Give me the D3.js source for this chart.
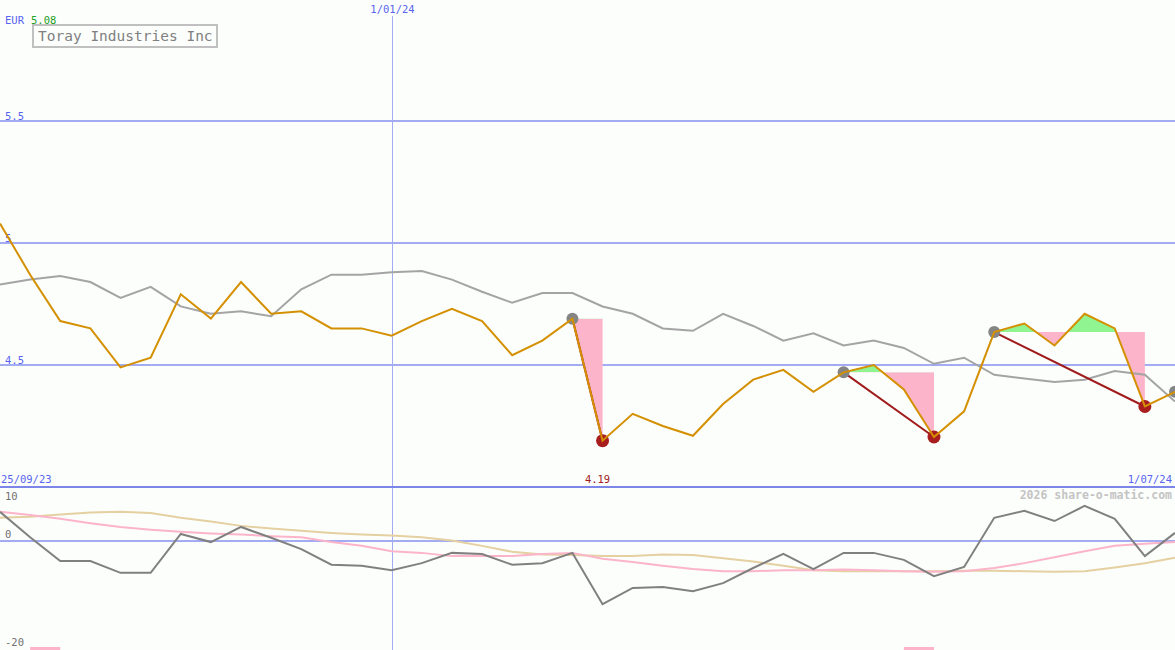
<!DOCTYPE html>
<html><head><meta charset="utf-8">
<script src="https://cdn.jsdelivr.net/npm/d3@7"></script>
<style>
html,body{margin:0;padding:0;background:#fcfefc;}
svg{display:block;}
text{font-family:"DejaVu Sans Mono",monospace;}
</style></head>
<body><svg id="c" width="1175" height="650"></svg>
<script>
const dates = ["2023-10-02","2023-10-09","2023-10-16","2023-10-23","2023-10-30","2023-11-06","2023-11-13","2023-11-20","2023-11-27","2023-12-04",
"2023-12-11","2023-12-18","2023-12-25","2024-01-01","2024-01-08","2024-01-15","2024-01-22","2024-01-29","2024-02-05","2024-02-12",
"2024-02-19","2024-02-26","2024-03-04","2024-03-11","2024-03-18","2024-03-25","2024-04-01","2024-04-08","2024-04-15","2024-04-22",
"2024-04-29","2024-05-06","2024-05-13","2024-05-20","2024-05-27","2024-06-03","2024-06-10","2024-06-17","2024-06-24","2024-07-01"];
const price = [5.08,4.87,4.68,4.65,4.49,4.53,4.79,4.69,4.84,4.71,
4.72,4.65,4.65,4.62,4.68,4.73,4.68,4.54,4.60,4.69,
4.19,4.30,4.25,4.21,4.34,4.44,4.48,4.39,4.47,4.50,
4.40,4.205,4.31,4.635,4.67,4.58,4.71,4.65,4.33,4.39];
const avgLine = [4.83,4.85,4.865,4.84,4.775,4.82,4.74,4.71,4.72,4.70,
4.81,4.87,4.87,4.88,4.885,4.85,4.80,4.755,4.795,4.795,
4.74,4.71,4.65,4.64,4.71,4.66,4.60,4.63,4.58,4.60,
4.57,4.505,4.53,4.46,4.445,4.43,4.44,4.475,4.46,4.35];
const momentum = [5.4,0.7,-3.7,-3.7,-5.9,-5.9,1.3,-0.2,2.6,0.6,
-1.5,-4.4,-4.6,-5.4,-4.1,-2.2,-2.4,-4.4,-4.1,-2.2,
-11.7,-8.7,-8.5,-9.3,-7.8,-5.0,-2.4,-5.2,-2.2,-2.2,
-3.5,-6.5,-4.8,4.3,5.6,3.7,6.5,4.1,-2.8,1.5];
const pinkAvg = [5.4,4.8,4.1,3.3,2.6,2.1,1.7,1.4,1.2,0.9,
0.7,-0.2,-0.9,-1.9,-2.2,-2.8,-2.8,-2.8,-2.4,-2.2,
-3.3,-3.9,-4.6,-5.2,-5.6,-5.6,-5.4,-5.4,-5.3,-5.4,
-5.6,-5.7,-5.6,-5.0,-4.1,-3.0,-1.9,-0.9,-0.5,-0.2];
const tanAvg = [4.3,4.5,4.9,5.3,5.4,5.2,4.3,3.6,2.8,2.3,
1.9,1.5,1.2,1.0,0.7,0.1,-0.9,-2.0,-2.5,-2.6,
-2.8,-2.8,-2.5,-2.6,-3.2,-3.8,-4.6,-5.4,-5.6,-5.6,
-5.6,-5.6,-5.5,-5.5,-5.6,-5.7,-5.6,-4.9,-4.1,-3.1];
// swing pairs: [high index, low index]
const swings = [[19,20],[28,31],[33,38]];
const extraHigh = [39];
const signalBars = [[1,2],[30,31]];
const priceTicks = [4.5,5,5.5];
const momTicks = [10,0,-20];
const xDomain = ["2023-10-02","2024-07-01"];
const vLineDate = "2024-01-01";
const firstLabel = "25/09/23", lastLabel = "1/07/24", vLineLabel = "1/01/24";
const title = "Toray Industries Inc", currency = "EUR", firstPrice = "5.08", lowLabel = "4.19";

const parse = d3.timeParse("%Y-%m-%d");
const D = dates.map(parse);
const svg = d3.select("#c");
const W = 1175;
const x = d3.scaleTime().domain(xDomain.map(parse)).range([0, W]);
const y = d3.scaleLinear().domain([4, 6]).range([487, -1]);
const ym = d3.scaleLinear().domain([-20, 10]).range([649, 487]);

const blue = "#a3acf2", blueText = "#5864f0";

svg.append("rect").attr("width", W).attr("height", 650).attr("fill", "#fcfefc");

// vertical date line
const vx = Math.round(x(parse(vLineDate))) + 0.5;
svg.append("line").attr("x1", vx).attr("x2", vx).attr("y1", 16).attr("y2", 650)
  .attr("stroke", blue).attr("stroke-width", 1);
svg.append("text").attr("x", vx).attr("y", 13).attr("text-anchor", "middle")
  .attr("font-size", 10.5).attr("fill", blueText).text(vLineLabel);

// horizontal grid
priceTicks.forEach(t => {
  svg.append("line").attr("x1", 0).attr("x2", W).attr("y1", y(t)).attr("y2", y(t))
    .attr("stroke", blue).attr("stroke-width", 2);
  svg.append("text").attr("x", 5).attr("y", y(t) - 1).attr("font-size", 10.5)
    .attr("fill", blueText).text(String(t));
});
svg.append("line").attr("x1", 0).attr("x2", W).attr("y1", y(4)).attr("y2", y(4))
  .attr("stroke", "#7b86e8").attr("stroke-width", 2);
// momentum zero line
svg.append("line").attr("x1", 0).attr("x2", W).attr("y1", ym(0)).attr("y2", ym(0))
  .attr("stroke", blue).attr("stroke-width", 2);

// fills between price and swing high level
const defs = svg.append("defs");
swings.forEach(([h, l], i) => {
  const lvl = price[h];
  const pts = d3.range(h, l + 1);
  defs.append("clipPath").attr("id", "above" + i).append("rect")
    .attr("x", 0).attr("y", 0).attr("width", W).attr("height", y(lvl));
  defs.append("clipPath").attr("id", "below" + i).append("rect")
    .attr("x", 0).attr("y", y(lvl)).attr("width", W).attr("height", 650 - y(lvl));
  const area = d3.area().x(k => x(D[k])).y0(y(lvl)).y1(k => y(price[k]));
  svg.append("path").attr("d", area(pts)).attr("fill", "#90f590").attr("clip-path", `url(#above${i})`);
  svg.append("path").attr("d", area(pts)).attr("fill", "#fbb4c9").attr("clip-path", `url(#below${i})`);
});

// average line
const line = d3.line().x((d, i) => x(D[i])).y(d => y(d));
svg.append("path").attr("d", line(avgLine)).attr("fill", "none")
  .attr("stroke", "#a4a4a4").attr("stroke-width", 2);

// swing connectors
swings.forEach(([h, l]) => {
  svg.append("line").attr("x1", x(D[h])).attr("y1", y(price[h]))
    .attr("x2", x(D[l])).attr("y2", y(price[l]))
    .attr("stroke", "#a01c1c").attr("stroke-width", 2);
});

// markers (under price line)
swings.map(s => s[0]).concat(extraHigh).forEach(k => {
  svg.append("circle").attr("cx", x(D[k])).attr("cy", y(price[k])).attr("r", 6).attr("fill", "#858585");
});
swings.forEach(([h, l]) => {
  svg.append("circle").attr("cx", x(D[l])).attr("cy", y(price[l])).attr("r", 6.5).attr("fill", "#a81e1e");
});

// price line
svg.append("path").attr("d", line(price)).attr("fill", "none")
  .attr("stroke", "#d49000").attr("stroke-width", 2);

// momentum panel lines
const mline = d3.line().x((d, i) => x(D[i])).y(d => ym(d));
svg.append("path").attr("d", mline(tanAvg)).attr("fill", "none").attr("stroke", "#e4d0a0").attr("stroke-width", 2);
svg.append("path").attr("d", mline(pinkAvg)).attr("fill", "none").attr("stroke", "#fbb4c9").attr("stroke-width", 2);
svg.append("path").attr("d", mline(momentum)).attr("fill", "none").attr("stroke", "#808080").attr("stroke-width", 2);

signalBars.forEach(([a, b]) => {
  svg.append("rect").attr("x", x(D[a])).attr("y", 647).attr("width", x(D[b]) - x(D[a])).attr("height", 3)
    .attr("fill", "#fbb4c9");
});

momTicks.forEach(t => {
  const yy = t === 10 ? ym(t) + 13 : ym(t) - 3;
  svg.append("text").attr("x", 5).attr("y", yy).attr("font-size", 10.5).attr("fill", "#707070").text(String(t));
});

// labels
svg.append("text").attr("x", 1).attr("y", 483).attr("font-size", 10.5).attr("fill", blueText).text(firstLabel);
svg.append("text").attr("x", 1172).attr("y", 483).attr("text-anchor", "end").attr("font-size", 10.5).attr("fill", blueText).text(lastLabel);
svg.append("text").attr("x", x(D[20]) - 5).attr("y", 483).attr("text-anchor", "middle").attr("font-size", 10.5).attr("fill", "#a01c1c").text(lowLabel);
svg.append("text").attr("x", 1172).attr("y", 499).attr("text-anchor", "end").attr("font-size", 11.5)
  .attr("font-weight", "bold").attr("fill", "#c4c4c4").text("2026 share-o-matic.com");

svg.append("text").attr("x", 5).attr("y", 24).attr("font-size", 10.5).attr("fill", blueText).text(currency);
svg.append("text").attr("x", 31).attr("y", 24).attr("font-size", 10.5).attr("fill", "#22a022").text(firstPrice);
svg.append("rect").attr("x", 33).attr("y", 25).attr("width", 184).attr("height", 22)
  .attr("fill", "#fcfefc").attr("stroke", "#c0c0c0").attr("stroke-width", 2);
svg.append("text").attr("x", 38).attr("y", 41).attr("font-size", 14.5).attr("fill", "#808080").text(title);
</script></body></html>
